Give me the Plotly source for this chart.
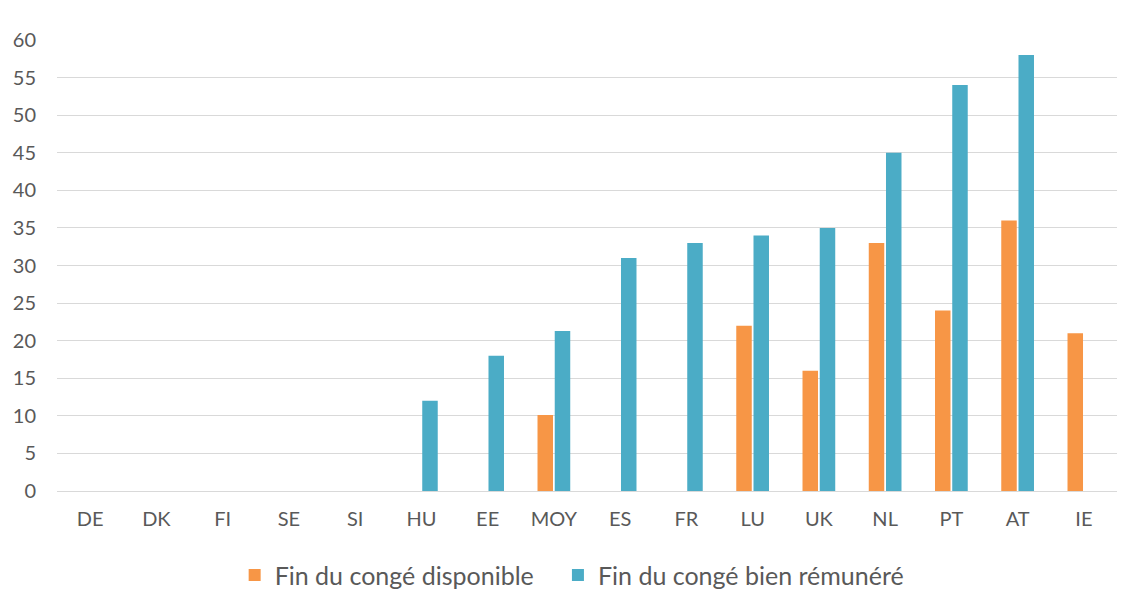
import plotly.graph_objects as go

countries = ["DE", "DK", "FI", "SE", "SI", "HU", "EE", "MOY", "ES", "FR",
             "LU", "UK", "NL", "PT", "AT", "IE"]
fin_disponible = [0, 0, 0, 0, 0, 0, 0, 10.1, 0, 0, 22, 16, 33, 24, 36, 21]
fin_remunere = [0, 0, 0, 0, 0, 12, 18, 21.3, 31, 33, 34, 35, 45, 54, 58, 0]
y_ticks = list(range(0, 61, 5))

fig = go.Figure()
fig.add_trace(go.Bar(
    x=countries, y=fin_disponible,
    name="Fin du congé disponible" + "\u00a0" * 3,  # extra room before next entry
    marker=dict(color="#F79646", line=dict(width=0)),
))
fig.add_trace(go.Bar(
    x=countries, y=fin_remunere, name="Fin du congé bien rémunéré",
    marker=dict(color="#4BACC6", line=dict(width=0)),
))

# page body adds an 8px offset, margins compensate for it
fig.update_layout(
    width=1141, height=606,
    barmode="group", bargap=0.48, bargroupgap=0.1,
    plot_bgcolor="white", paper_bgcolor="white",
    margin=dict(l=49, r=32, t=32, b=123),
    font=dict(family="Lato, Open Sans, sans-serif", color="#595959", size=20),
    legend=dict(orientation="h", x=0.486, xanchor="center", y=-0.136, yanchor="top",
                font=dict(size=25), traceorder="normal", itemwidth=30),
)
fig.update_xaxes(showgrid=False, showline=True, linecolor="#d9d9d9", linewidth=1,
                 ticks="", ticklabelstandoff=10, tickfont=dict(size=20))
fig.update_yaxes(range=[0, 60], tickvals=y_ticks, showgrid=True, gridcolor="#d9d9d9",
                 gridwidth=1, zeroline=False, ticks="", ticklabelstandoff=20,
                 automargin=False, tickfont=dict(size=20))

fig.write_html("out.html")
